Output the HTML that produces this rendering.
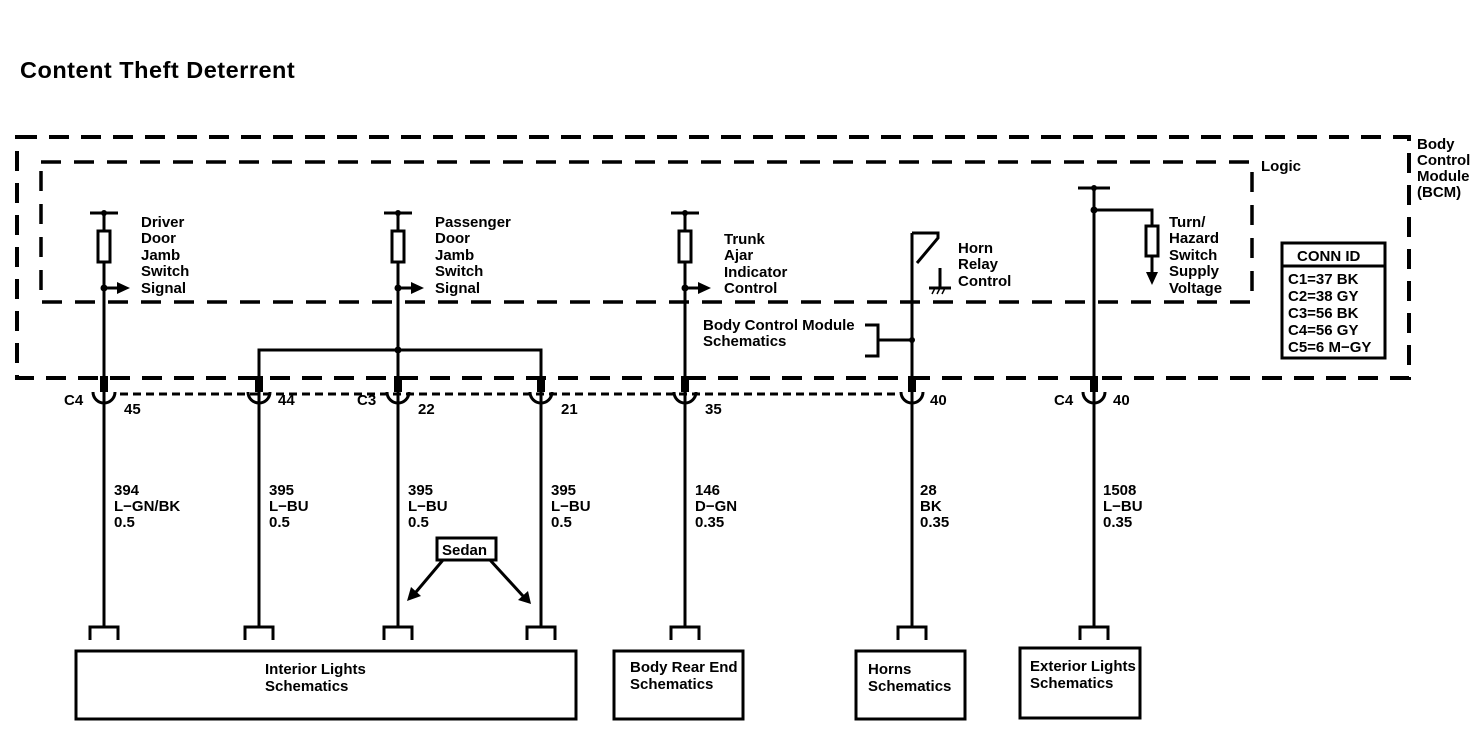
<!DOCTYPE html>
<html><head><meta charset="utf-8"><style>
html,body{margin:0;padding:0;background:#fff}
svg{display:block}
text{font-family:"Liberation Sans",Arial,sans-serif;font-size:15px;font-weight:bold;fill:#000}
</style></head><body>
<svg width="1478" height="752" viewBox="0 0 1478 752" xmlns="http://www.w3.org/2000/svg">
<rect width="1478" height="752" fill="#fff"/>
<text x="20" y="78" style="font-size:23.5px;font-weight:bold;letter-spacing:0.5px">Content Theft Deterrent</text>

<rect x="17" y="137" width="1392" height="241" fill="none" stroke="#000" stroke-width="4" stroke-dasharray="20,12"/>
<text x="1417" y="149">Body</text><text x="1417" y="165">Control</text><text x="1417" y="181">Module</text><text x="1417" y="197">(BCM)</text>
<rect x="41" y="162" width="1211" height="140" fill="none" stroke="#000" stroke-width="3.5" stroke-dasharray="20,13"/>
<text x="1261" y="171">Logic</text>

<line x1="120" y1="394" x2="900" y2="394" stroke="#000" stroke-width="3" stroke-dasharray="8,5"/>

<g stroke="#000" stroke-width="3" fill="none">
<line x1="104" y1="213" x2="104" y2="627"/>
<line x1="398" y1="213" x2="398" y2="627"/>
<line x1="259" y1="350" x2="259" y2="627"/>
<line x1="541" y1="350" x2="541" y2="627"/>
<line x1="685" y1="213" x2="685" y2="627"/>
<line x1="912" y1="233" x2="912" y2="627"/>
<line x1="1094" y1="188" x2="1094" y2="627"/>
<polyline points="259,392 259,350 541,350 541,392"/>
<line x1="90" y1="213" x2="118" y2="213"/>
<line x1="384" y1="213" x2="412" y2="213"/>
<line x1="671" y1="213" x2="699" y2="213"/>
<line x1="1078" y1="188" x2="1110" y2="188"/>
<rect x="98" y="231" width="12" height="31" fill="#fff"/>
<rect x="392" y="231" width="12" height="31" fill="#fff"/>
<rect x="679" y="231" width="12" height="31" fill="#fff"/>
<polyline points="1094,210 1152,210 1152,226"/>
<rect x="1146" y="226" width="12" height="30" fill="#fff"/>
<line x1="1152" y1="256" x2="1152" y2="272"/>
<line x1="104" y1="288" x2="118" y2="288"/>
<line x1="398" y1="288" x2="412" y2="288"/>
<line x1="685" y1="288" x2="699" y2="288"/>
<polyline points="912,233 938,233 938,238 917,263"/>
<line x1="940" y1="268" x2="940" y2="287"/>
<line x1="929" y1="288" x2="951" y2="288"/>
<polyline points="866,325 879,325 879,356 866,356" transform="translate(-1,0)"/>
<line x1="878" y1="340" x2="912" y2="340"/>
<path d="M93,392 A11,11 0 0 0 115,392"/>
<path d="M248,392 A11,11 0 0 0 270,392"/>
<path d="M387,392 A11,11 0 0 0 409,392"/>
<path d="M530,392 A11,11 0 0 0 552,392"/>
<path d="M674,392 A11,11 0 0 0 696,392"/>
<path d="M901,392 A11,11 0 0 0 923,392"/>
<path d="M1083,392 A11,11 0 0 0 1105,392"/>
<polyline points="90,640 90,627 118,627 118,640"/>
<polyline points="245,640 245,627 273,627 273,640"/>
<polyline points="384,640 384,627 412,627 412,640"/>
<polyline points="527,640 527,627 555,627 555,640"/>
<polyline points="671,640 671,627 699,627 699,640"/>
<polyline points="898,640 898,627 926,627 926,640"/>
<polyline points="1080,640 1080,627 1108,627 1108,640"/>
<rect x="76" y="651" width="500" height="68"/>
<rect x="614" y="651" width="129" height="68"/>
<rect x="856" y="651" width="109" height="68"/>
<rect x="1020" y="648" width="120" height="70"/>
<rect x="437" y="538" width="59" height="22"/>
<line x1="443" y1="560" x2="416" y2="592"/>
<line x1="490" y1="560" x2="523" y2="596"/>
<rect x="1282" y="243" width="103" height="115"/>
<line x1="1282" y1="266" x2="1385" y2="266"/>
</g>
<g fill="#000">
<rect x="100" y="376" width="8" height="16"/>
<rect x="255" y="376" width="8" height="16"/>
<rect x="394" y="376" width="8" height="16"/>
<rect x="537" y="376" width="8" height="16"/>
<rect x="681" y="376" width="8" height="16"/>
<rect x="908" y="376" width="8" height="16"/>
<rect x="1090" y="376" width="8" height="16"/>
<circle cx="104" cy="213" r="3"/><circle cx="398" cy="213" r="3"/><circle cx="685" cy="213" r="3"/><circle cx="1094" cy="188" r="3"/>
<circle cx="104" cy="288" r="3.5"/><circle cx="398" cy="288" r="3.5"/><circle cx="685" cy="288" r="3.5"/>
<circle cx="1094" cy="210" r="3.5"/><circle cx="398" cy="350" r="3.5"/><circle cx="912" cy="340" r="3"/>
<polygon points="117,282 130,288 117,294"/>
<polygon points="411,282 424,288 411,294"/>
<polygon points="698,282 711,288 698,294"/>
<polygon points="1146,272 1158,272 1152,285"/>
<polygon points="407,601 411,587 421,596"/>
<polygon points="531,604 518,600 528,591"/>
</g>
<g stroke="#000" stroke-width="1.5">
<line x1="932" y1="294" x2="935" y2="288"/><line x1="937" y1="294" x2="940" y2="288"/><line x1="942" y1="294" x2="945" y2="288"/>
</g>

<text x="141" y="227">Driver</text><text x="141" y="243">Door</text><text x="141" y="260">Jamb</text><text x="141" y="276">Switch</text><text x="141" y="293">Signal</text>
<text x="435" y="227">Passenger</text><text x="435" y="243">Door</text><text x="435" y="260">Jamb</text><text x="435" y="276">Switch</text><text x="435" y="293">Signal</text>
<text x="724" y="244">Trunk</text><text x="724" y="260">Ajar</text><text x="724" y="277">Indicator</text><text x="724" y="293">Control</text>
<text x="958" y="253">Horn</text><text x="958" y="269">Relay</text><text x="958" y="286">Control</text>
<text x="1169" y="227">Turn/</text><text x="1169" y="243">Hazard</text><text x="1169" y="260">Switch</text><text x="1169" y="276">Supply</text><text x="1169" y="293">Voltage</text>
<text x="703" y="330">Body Control Module</text><text x="703" y="346">Schematics</text>
<text x="1297" y="261" style="font-size:15px">CONN ID</text>
<text x="1288" y="284" style="font-size:15px">C1=37 BK</text>
<text x="1288" y="301" style="font-size:15px">C2=38 GY</text>
<text x="1288" y="318" style="font-size:15px">C3=56 BK</text>
<text x="1288" y="335" style="font-size:15px">C4=56 GY</text>
<text x="1288" y="352" style="font-size:15px">C5=6 M−GY</text>

<text x="64" y="405">C4</text><text x="124" y="414">45</text>
<text x="278" y="405">44</text>
<text x="357" y="405">C3</text><text x="418" y="414">22</text>
<text x="561" y="414">21</text>
<text x="705" y="414">35</text>
<text x="930" y="405">40</text>
<text x="1054" y="405">C4</text><text x="1113" y="405">40</text>

<text x="114" y="495">394</text><text x="114" y="511">L−GN/BK</text><text x="114" y="527">0.5</text>
<text x="269" y="495">395</text><text x="269" y="511">L−BU</text><text x="269" y="527">0.5</text>
<text x="408" y="495">395</text><text x="408" y="511">L−BU</text><text x="408" y="527">0.5</text>
<text x="551" y="495">395</text><text x="551" y="511">L−BU</text><text x="551" y="527">0.5</text>
<text x="695" y="495">146</text><text x="695" y="511">D−GN</text><text x="695" y="527">0.35</text>
<text x="920" y="495">28</text><text x="920" y="511">BK</text><text x="920" y="527">0.35</text>
<text x="1103" y="495">1508</text><text x="1103" y="511">L−BU</text><text x="1103" y="527">0.35</text>
<text x="442" y="555">Sedan</text>

<text x="265" y="674">Interior Lights</text><text x="265" y="691">Schematics</text>
<text x="630" y="672">Body Rear End</text><text x="630" y="689">Schematics</text>
<text x="868" y="674">Horns</text><text x="868" y="691">Schematics</text>
<text x="1030" y="671">Exterior Lights</text><text x="1030" y="688">Schematics</text>
</svg>
</body></html>
